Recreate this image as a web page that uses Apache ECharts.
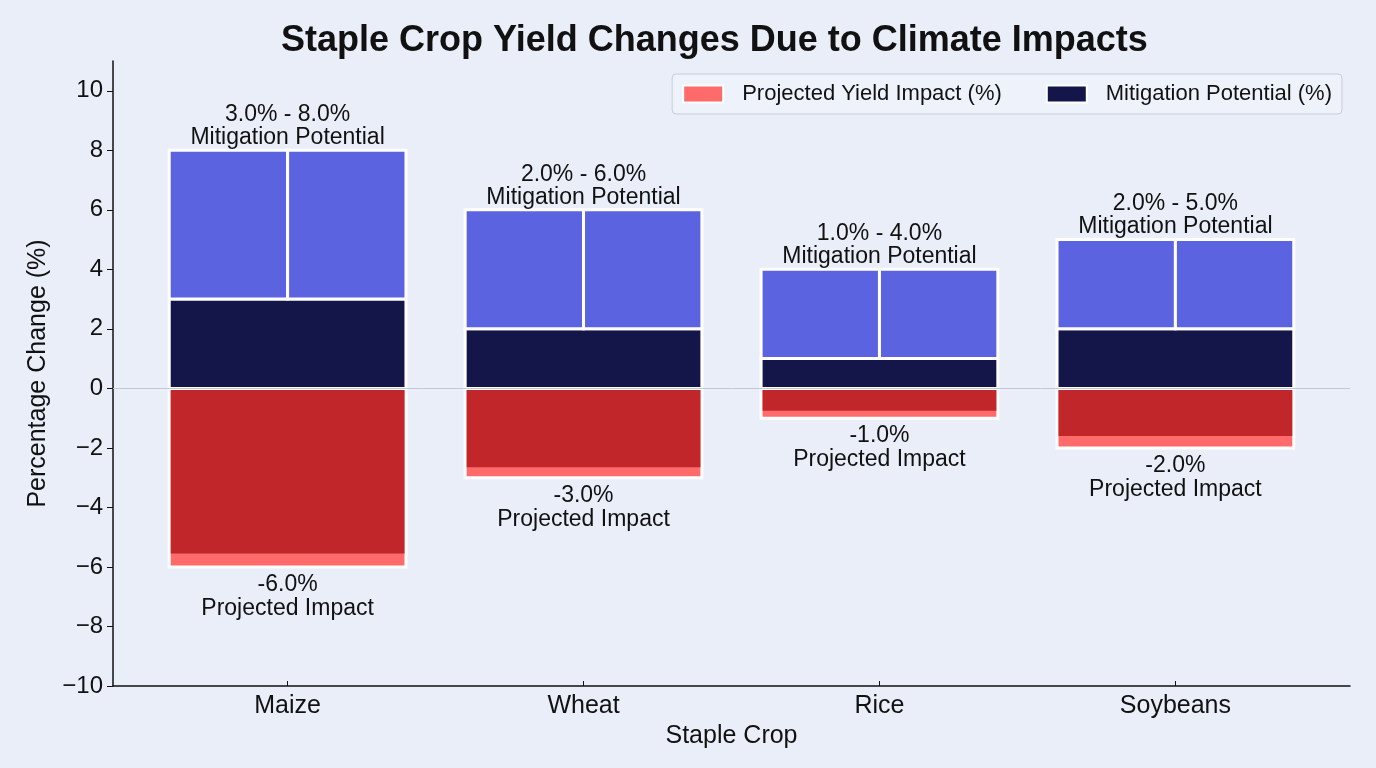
<!DOCTYPE html>
<html>
<head>
<meta charset="utf-8">
<script src="https://cdn.jsdelivr.net/npm/echarts@6/dist/echarts.min.js"></script>
<style>
  html, body { margin: 0; padding: 0; background: #e9eef8; }
  #main { width: 1376px; height: 768px; }
</style>
</head>
<body>
<div id="main"></div>
<script>
// data
var crops = ["Maize", "Wheat", "Rice", "Soybeans"];
var impact = [-6, -3, -1, -2];            // projected yield impact (%)
var impactInner = [-5.55, -2.65, -0.75, -1.6]; // dark red part of the impact bar
var mitigLow = [3, 2, 1, 2];              // mitigation potential, low end
var mitigHigh = [8, 6, 4, 5];             // mitigation potential, high end
var yTicks = [-10, -8, -6, -4, -2, 0, 2, 4, 6, 8, 10];

var HALF = 0.4;
var FONT = "'Liberation Sans', Arial, sans-serif";

function rectBetween(api, x0, x1, y0, y1) {
    var a = api.coord([x0, y0]);
    var b = api.coord([x1, y1]);
    return {
        x: Math.min(a[0], b[0]),
        y: Math.min(a[1], b[1]),
        width: Math.abs(b[0] - a[0]),
        height: Math.abs(b[1] - a[1])
    };
}

function renderImpact(params, api) {
    var x = api.value(0), v = api.value(1), inner = api.value(2);
    var outer = rectBetween(api, x - HALF, x + HALF, 0, v);
    var dark = rectBetween(api, x - HALF, x + HALF, 0, inner);
    var bottom = api.coord([x, v]);
    return {
        type: "group",
        children: [
            { type: "rect", shape: outer, style: { fill: "#ff6b6b", stroke: "#ffffff", lineWidth: 3 } },
            { type: "rect", shape: { x: dark.x + 1.5, y: dark.y, width: dark.width - 3, height: dark.height },
              style: { fill: "#c0262a" } },
            { type: "text", x: bottom[0], y: bottom[1] + 6,
              style: { text: v.toFixed(1) + "%\nProjected Impact", align: "center", verticalAlign: "top",
                       font: "23px " + FONT, fill: "#111", lineHeight: 24 } }
        ]
    };
}

function renderMitig(params, api) {
    var x = api.value(0), lo = api.value(1), hi = api.value(2);
    var navy = rectBetween(api, x - HALF, x + HALF, 0, lo);
    var left = rectBetween(api, x - HALF, x, lo, hi);
    var right = rectBetween(api, x, x + HALF, lo, hi);
    var top = api.coord([x, hi]);
    var border = { stroke: "#ffffff", lineWidth: 3 };
    return {
        type: "group",
        children: [
            { type: "rect", shape: navy, style: Object.assign({ fill: "#14164a" }, border) },
            { type: "rect", shape: left, style: Object.assign({ fill: "#5b63e0" }, border) },
            { type: "rect", shape: right, style: Object.assign({ fill: "#5b63e0" }, border) },
            { type: "text", x: top[0], y: top[1] - 1,
              style: { text: lo.toFixed(1) + "% - " + hi.toFixed(1) + "%\nMitigation Potential",
                       align: "center", verticalAlign: "bottom",
                       font: "23px " + FONT, fill: "#111", lineHeight: 23 } }
        ]
    };
}

var impactData = crops.map(function (c, i) { return [i, impact[i], impactInner[i]]; });
var mitigData = crops.map(function (c, i) { return [i, mitigLow[i], mitigHigh[i]]; });

var option = {
    backgroundColor: "#e9eef8",
    animation: false,
    textStyle: { fontFamily: FONT },
    title: {
        text: "Staple Crop Yield Changes Due to Climate Impacts",
        left: 276,
        top: 18,
        textStyle: { fontSize: 36, fontWeight: "bold", color: "#111", fontFamily: FONT }
    },
    legend: {
        right: 34,
        top: 74,
        padding: [9, 10],
        itemGap: 44,
        itemWidth: 40,
        itemHeight: 17,
        icon: "rect",
        backgroundColor: "#eef2fb",
        borderColor: "#c9cdd6",
        borderWidth: 1,
        borderRadius: 4,
        itemStyle: { borderColor: "#ffffff", borderWidth: 2 },
        textStyle: { fontSize: 22, color: "#111", padding: [0, 0, 0, 14] },
        data: ["Projected Yield Impact (%)", "Mitigation Potential (%)"]
    },
    grid: { left: 113, right: 26, top: 61, bottom: 82 },
    xAxis: {
        type: "value",
        min: -0.59,
        max: 3.59,
        name: "Staple Crop",
        nameLocation: "middle",
        nameGap: 38,
        nameTextStyle: { fontSize: 25, color: "#111" },
        axisLine: { onZero: false, lineStyle: { color: "#111", width: 1.5 } },
        axisTick: { show: true, inside: true, length: 5, customValues: [0, 1, 2, 3], lineStyle: { color: "#111" } },
        axisLabel: {
            customValues: [0, 1, 2, 3],
            fontSize: 25, color: "#111", margin: 8,
            formatter: function (v) { return crops[Math.round(v)]; }
        },
        splitLine: { show: false }
    },
    yAxis: {
        type: "value",
        min: -10,
        max: 11,
        interval: 2,
        name: "Percentage Change (%)",
        nameLocation: "middle",
        nameRotate: 90,
        nameGap: 62,
        nameTextStyle: { fontSize: 25, color: "#111" },
        axisLine: { show: true, onZero: false, lineStyle: { color: "#111", width: 1.5 } },
        axisTick: { show: true, length: 6, customValues: yTicks, lineStyle: { color: "#111" } },
        axisLabel: {
            customValues: yTicks,
            fontSize: 24, color: "#111", margin: 10,
            formatter: function (v) { return v < 0 ? "\u2212" + (-v) : String(v); }
        },
        splitLine: { show: false }
    },
    series: [
        {
            name: "Projected Yield Impact (%)",
            type: "custom",
            renderItem: renderImpact,
            itemStyle: { color: "#ff6b6b" },
            encode: { x: 0, y: [1, 2] },
            data: impactData,
            markLine: {
                silent: true,
                symbol: "none",
                label: { show: false },
                lineStyle: { color: "#c4c8d2", width: 1, type: "solid" },
                data: [{ yAxis: 0 }]
            },
            z: 2
        },
        {
            name: "Mitigation Potential (%)",
            type: "custom",
            renderItem: renderMitig,
            itemStyle: { color: "#14164a" },
            encode: { x: 0, y: [1, 2] },
            data: mitigData,
            z: 2
        }
    ]
};

var myChart = echarts.init(document.getElementById("main"));
myChart.setOption(option);
</script>
</body>
</html>
